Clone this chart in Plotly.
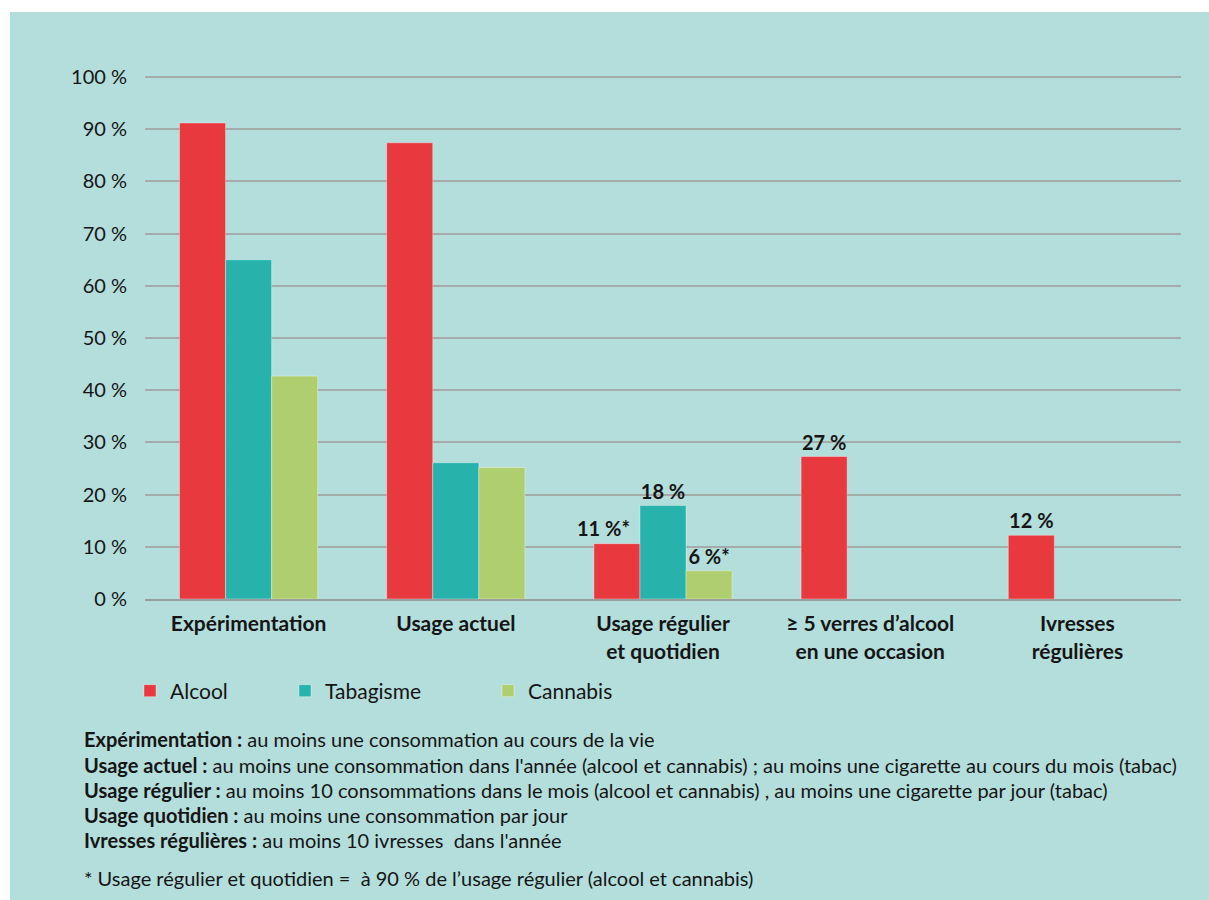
import plotly.graph_objects as go

categories = ["Expérimentation", "Usage actuel", "Usage régulier<br>et quotidien",
              "≥ 5 verres d’alcool<br>en une occasion", "Ivresses<br>régulières"]
alcool = [91.2, 87.4, 10.6, 27.3, 12.2]
tabagisme = [65.0, 26.1, 17.9, None, None]
cannabis = [42.7, 25.2, 5.4, None, None]
alcool_labels = ["", "", "11 %*", "27 %", "12 %"]
tabagisme_labels = ["", "", "18 %", "", ""]
cannabis_labels = ["", "", "6 %*", "", ""]
tick_vals = [0, 10, 20, 30, 40, 50, 60, 70, 80, 90, 100]
tick_text = [f"{v} %" for v in tick_vals]

footnotes = [
    "<b>Expérimentation :</b> au moins une consommation au cours de la vie",
    "<b>Usage actuel :</b> au moins une consommation dans l'année (alcool et cannabis) ; au moins une cigarette au cours du mois (tabac)",
    "<b>Usage régulier :</b> au moins 10 consommations dans le mois (alcool et cannabis) , au moins une cigarette par jour (tabac)",
    "<b>Usage quotidien :</b> au moins une consommation par jour",
    "<b>Ivresses régulières :</b> au moins 10 ivresses  dans l'année",
    "* Usage régulier et quotidien =  à 90 % de l’usage régulier (alcool et cannabis)",
]
footnote_y = [739, 765, 790, 815, 840, 878]

FONT = "Lato"
TXT = "#151515"
W, H = 1209, 900
L, R, T, B = 145, 28, 76, 301
YMAX = 100.2
LABEL_FONT = dict(family=FONT, size=20, color=TXT, weight="bold")

# The "11 %*" label sits left of its bar (it overhangs the neighbouring bar),
# so it is drawn as an annotation on top; the others are bar texts.
alcool_bar_text = [t if not t.endswith("*") else "" for t in alcool_labels]

fig = go.Figure()
series = [("Alcool", alcool, alcool_bar_text, "#e8393f", "legend"),
          ("Tabagisme", tabagisme, tabagisme_labels, "#27b3ac", "legend2"),
          ("Cannabis", cannabis, cannabis_labels, "#afce6f", "legend3")]
for name, vals, labels, col, lg in series:
    fig.add_trace(go.Bar(
        x=categories, y=vals, name=name, marker_color=col,
        marker_line=dict(color="rgba(255,255,255,0.35)", width=1),
        text=labels, textposition="outside", cliponaxis=False, constraintext="none",
        textfont=LABEL_FONT, legend=lg, hoverinfo="skip"))

for cat, val, lab in zip(categories, alcool, alcool_labels):
    if lab.endswith("*"):
        fig.add_annotation(x=cat, y=val, text=lab, showarrow=False,
                           xanchor="center", yanchor="bottom", xshift=-60, yshift=2,
                           font=LABEL_FONT)

ph = H - T - B
pw = W - L - R
def py(pix):
    return (H - B - pix) / ph
def px(pix):
    return (pix - L) / pw

legend_common = dict(orientation="h", bgcolor="rgba(0,0,0,0)",
                     font=dict(family=FONT, size=21, color=TXT),
                     yanchor="middle", xanchor="left", itemwidth=30)
fig.update_layout(
    width=W, height=H,
    margin=dict(l=L, r=R, t=T, b=B),
    paper_bgcolor="white", plot_bgcolor="rgba(0,0,0,0)",
    barmode="group", bargap=0.333, bargroupgap=0,
    font=dict(family=FONT, color=TXT),
    legend=dict(x=px(130), y=py(691), **legend_common),
    legend2=dict(x=px(285), y=py(691), **legend_common),
    legend3=dict(x=px(488), y=py(691), **legend_common),
    showlegend=True,
)
fig.update_yaxes(range=[0, YMAX], tickvals=tick_vals, ticktext=tick_text,
                 showgrid=True, gridcolor="#a3abab", gridwidth=1.5,
                 zeroline=False, showline=False, ticks="",
                 tickfont=dict(family=FONT, size=20, color=TXT), ticklabelstandoff=17)
fig.update_xaxes(showline=True, linecolor="#9a9e9e", linewidth=2, ticks="",
                 ticklabelstandoff=5,
                 tickfont=dict(family=FONT, size=21, color=TXT, weight="bold"))

fig.add_shape(type="rect", xref="paper", yref="paper",
              x0=(10 - L) / pw, x1=(W + 5 - L) / pw, y0=py(H + 5), y1=py(12),
              fillcolor="#b4dedb", line_width=0, layer="below")

for txt, yy in zip(footnotes, footnote_y):
    fig.add_annotation(text=txt, xref="paper", yref="paper", x=px(82), y=py(yy),
                       xanchor="left", yanchor="middle", showarrow=False,
                       font=dict(family=FONT, size=20, color=TXT))

fig.write_html("out.html", config={"displayModeBar": False},
               post_script="document.body.style.margin='0';document.body.style.overflow='hidden';")
